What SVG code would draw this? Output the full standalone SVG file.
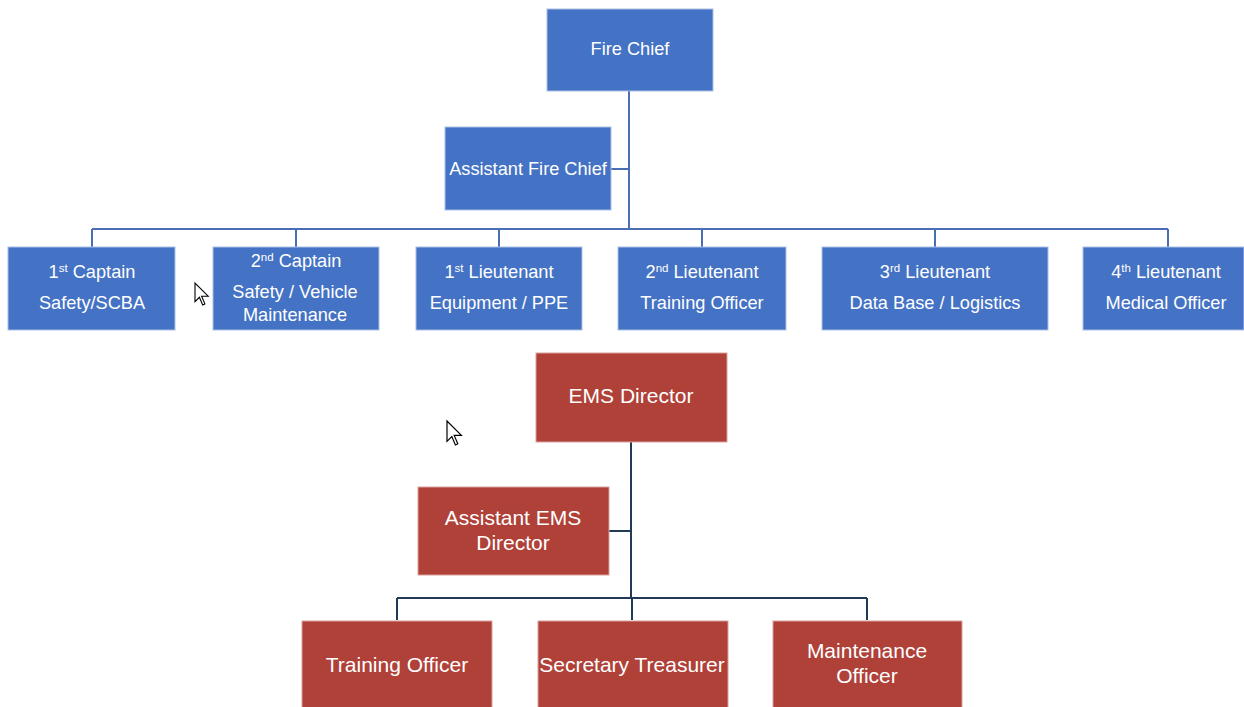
<svg xmlns="http://www.w3.org/2000/svg" width="1244" height="707" viewBox="0 0 1244 707">
<style>
.b{fill:#4472C4;stroke:#A9BFE6;stroke-width:1}
.r{fill:#AF4138;stroke:#D9A29D;stroke-width:1}
.t{font-family:"Liberation Sans",Arial,sans-serif;fill:#fff;text-anchor:middle}
.tb{font-size:18.2px}
.tr{font-size:21px}
.sup{font-size:11.5px}
.cb{stroke:#4A6DB3;stroke-width:2;fill:none}
.cr{stroke:#223A55;stroke-width:2;fill:none}
.cur{fill:#fff;stroke:#000;stroke-width:1}
</style>
<rect width="1244" height="707" fill="#fff"/>
<g id="connectors">
<path class="cb" d="M629 91V229M611 169H629M92 229H1168M92 229V247M296 229V247M499 229V247M702 229V247M935 229V247M1168 229V247"/>
<path class="cr" d="M631 442V598M609 531H631M397 598H867M397 598V620M632 598V620M867 598V620"/>
</g>
<g id="fire-chief"><rect class="b" x="547" y="9" width="166" height="82"/><text class="t tb" x="630" y="55">Fire Chief</text></g>
<g id="assistant-fire-chief"><rect class="b" x="445" y="127" width="166" height="83"/><text class="t tb" x="528" y="175">Assistant Fire Chief</text></g>
<g id="captain-1"><rect class="b" x="8" y="247" width="167" height="83"/><text class="t tb" x="92" y="278">1<tspan class="sup" baseline-shift="super">st</tspan> Captain</text><text class="t tb" x="92" y="309">Safety/SCBA</text></g>
<g id="captain-2"><rect class="b" x="213" y="247" width="166" height="83"/><text class="t tb" x="296" y="267">2<tspan class="sup" baseline-shift="super">nd</tspan> Captain</text><text class="t tb" x="295" y="298">Safety / Vehicle</text><text class="t tb" x="295" y="321">Maintenance</text></g>
<g id="lieutenant-1"><rect class="b" x="416" y="247" width="166" height="83"/><text class="t tb" x="499" y="278">1<tspan class="sup" baseline-shift="super">st</tspan> Lieutenant</text><text class="t tb" x="499" y="309">Equipment / PPE</text></g>
<g id="lieutenant-2"><rect class="b" x="618" y="247" width="168" height="83"/><text class="t tb" x="702" y="278">2<tspan class="sup" baseline-shift="super">nd</tspan> Lieutenant</text><text class="t tb" x="702" y="309">Training Officer</text></g>
<g id="lieutenant-3"><rect class="b" x="822" y="247" width="226" height="83"/><text class="t tb" x="935" y="278">3<tspan class="sup" baseline-shift="super">rd</tspan> Lieutenant</text><text class="t tb" x="935" y="309">Data Base / Logistics</text></g>
<g id="lieutenant-4"><rect class="b" x="1083" y="247" width="161" height="83"/><text class="t tb" x="1166" y="278">4<tspan class="sup" baseline-shift="super">th</tspan> Lieutenant</text><text class="t tb" x="1166" y="309">Medical Officer</text></g>
<g id="ems-director"><rect class="r" x="536" y="353" width="191" height="89"/><text class="t tr" x="631" y="403">EMS Director</text></g>
<g id="assistant-ems-director"><rect class="r" x="418" y="487" width="191" height="88"/><text class="t tr" x="513" y="525">Assistant EMS</text><text class="t tr" x="513" y="550">Director</text></g>
<g id="training-officer"><rect class="r" x="302" y="621" width="190" height="90"/><text class="t tr" x="397" y="672">Training Officer</text></g>
<g id="secretary-treasurer"><rect class="r" x="538" y="621" width="190" height="90"/><text class="t tr" x="632" y="672">Secretary Treasurer</text></g>
<g id="maintenance-officer"><rect class="r" x="773" y="621" width="189" height="90"/><text class="t tr" x="867" y="658">Maintenance</text><text class="t tr" x="867" y="683">Officer</text></g>
<polygon class="cur" transform="translate(195,283) scale(1.1)" points="0,0 0,17 4,13 7,20 9,19 6,12 12,12"/>
<polygon class="cur" transform="translate(447,421) scale(1.2)" points="0,0 0,17 4,13 7,20 9,19 6,12 12,12"/>
</svg>
